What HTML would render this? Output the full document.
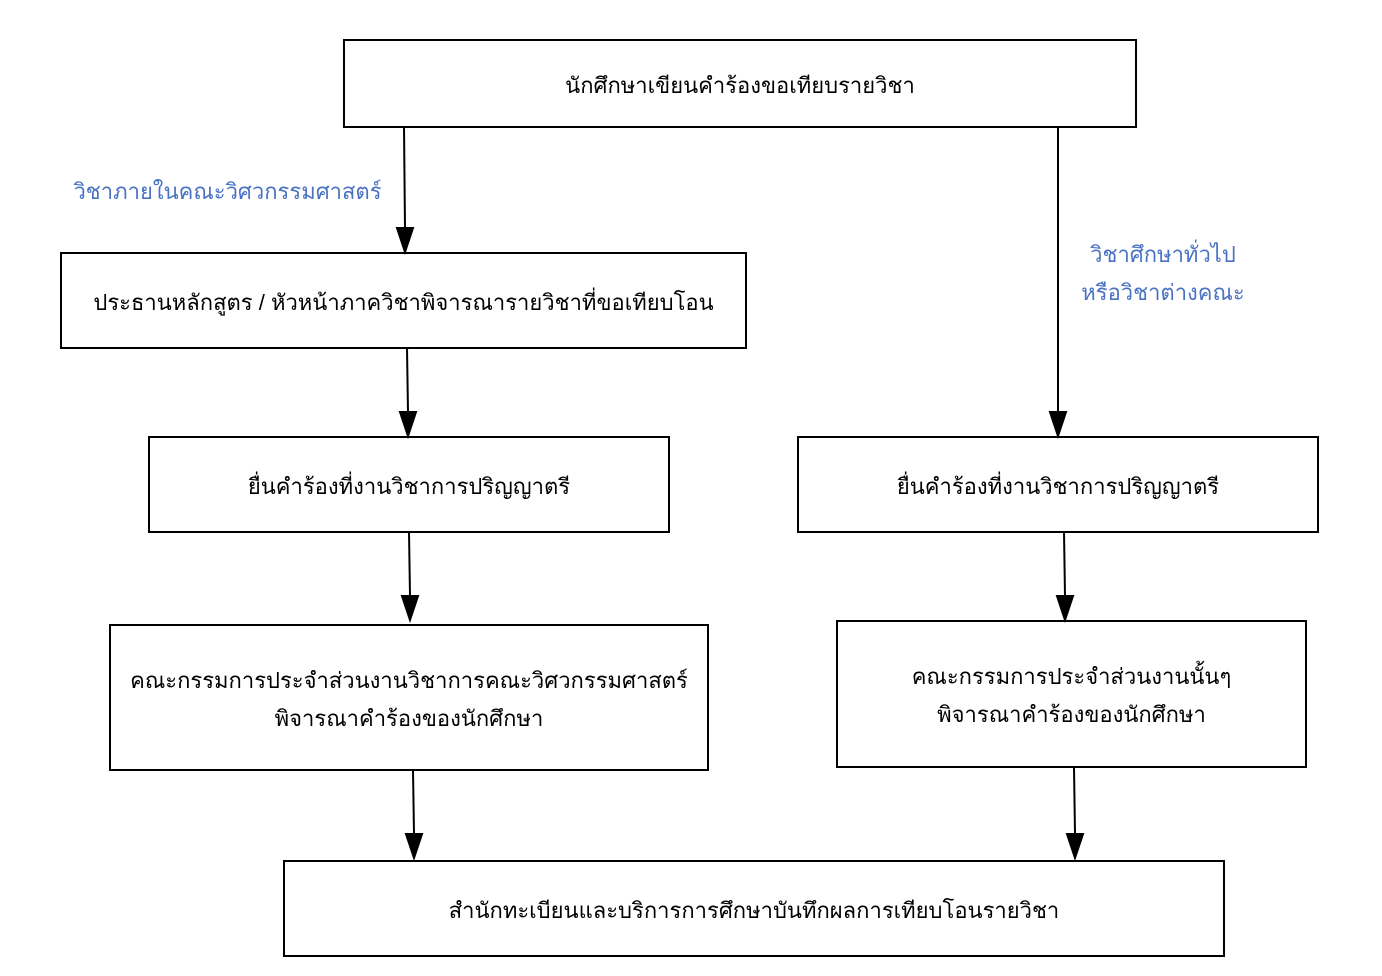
<!DOCTYPE html>
<html><head><meta charset="utf-8"><style>
body{margin:0;width:1382px;height:976px;background:#fff;position:relative;overflow:hidden;font-family:"Liberation Sans","DejaVu Sans",sans-serif;}
.b{position:absolute;border:2px solid #000;box-sizing:border-box;display:flex;align-items:center;justify-content:center;text-align:center;font-size:22px;line-height:38px;color:#000;padding-top:4px;}
.l{position:absolute;color:#4a72c4;font-size:22px;line-height:38px;text-align:center;}
svg{position:absolute;left:0;top:0;}
</style></head><body>
<svg width="1382" height="976">
<g stroke="#000" stroke-width="2" fill="#000">
<line x1="404" y1="127" x2="405" y2="228"/><polygon points="397,228 413,228 405,252"/>
<line x1="407" y1="348" x2="408" y2="412"/><polygon points="400,412 416,412 408,436"/>
<line x1="409" y1="532" x2="410" y2="596"/><polygon points="402,596 418,596 410,620"/>
<line x1="413" y1="770" x2="414" y2="834"/><polygon points="406,834 422,834 414,858"/>
<line x1="1058" y1="127" x2="1058" y2="412"/><polygon points="1050,412 1066,412 1058,436"/>
<line x1="1064" y1="532" x2="1065" y2="596"/><polygon points="1057,596 1073,596 1065,620"/>
<line x1="1074" y1="767" x2="1075" y2="834"/><polygon points="1067,834 1083,834 1075,858"/>
</g></svg>
<div class="b" style="left:343px;top:39px;width:794px;height:89px">นักศึกษาเขียนคำร้องขอเทียบรายวิชา</div>
<div class="b" style="left:60px;top:252px;width:687px;height:97px">ประธานหลักสูตร / หัวหน้าภาควิชาพิจารณารายวิชาที่ขอเทียบโอน</div>
<div class="b" style="left:148px;top:436px;width:522px;height:97px">ยื่นคำร้องที่งานวิชาการปริญญาตรี</div>
<div class="b" style="left:797px;top:436px;width:522px;height:97px">ยื่นคำร้องที่งานวิชาการปริญญาตรี</div>
<div class="b" style="left:109px;top:624px;width:600px;height:147px">คณะกรรมการประจำส่วนงานวิชาการคณะวิศวกรรมศาสตร์<br>พิจารณาคำร้องของนักศึกษา</div>
<div class="b" style="left:836px;top:620px;width:471px;height:148px">คณะกรรมการประจำส่วนงานนั้นๆ<br>พิจารณาคำร้องของนักศึกษา</div>
<div class="b" style="left:283px;top:860px;width:942px;height:97px">สำนักทะเบียนและบริการการศึกษาบันทึกผลการเทียบโอนรายวิชา</div>
<div class="l" style="left:60px;top:173px;width:335px">วิชาภายในคณะวิศวกรรมศาสตร์</div>
<div class="l" style="left:1063px;top:236px;width:200px">วิชาศึกษาทั่วไป<br>หรือวิชาต่างคณะ</div>
</body></html>
